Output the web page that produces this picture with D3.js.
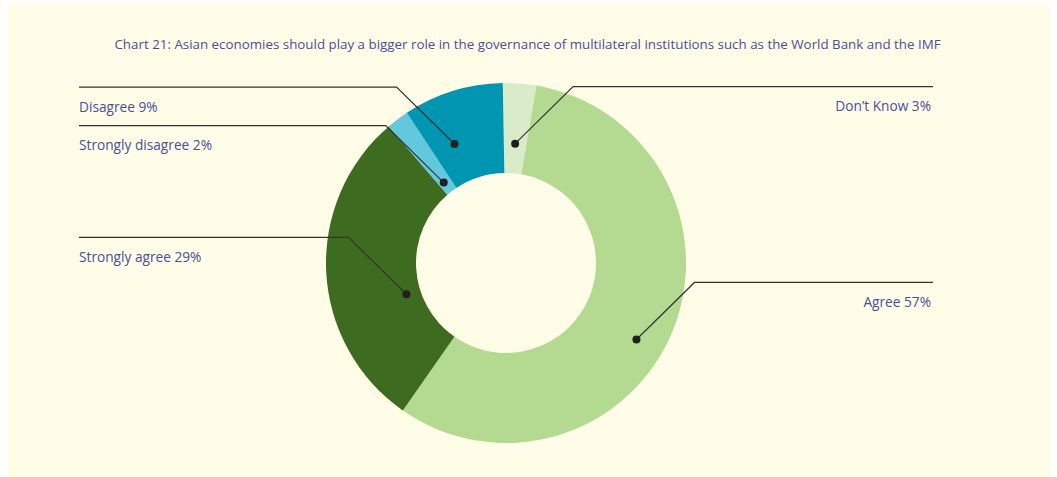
<!DOCTYPE html>
<html>
<head>
<meta charset="utf-8">
<script src="https://cdn.jsdelivr.net/npm/d3@7"></script>
<style>
  html, body { margin: 0; padding: 0; background: #ffffff; }
  svg { display: block; }
</style>
</head>
<body>
<svg id="chart" width="1057" height="477"></svg>
<script>
// ---- data ----
const title = "Chart 21: Asian economies should play a bigger role in the governance of multilateral institutions such as the World Bank and the IMF";
const categories = ["Don\u2019t Know", "Agree", "Strongly agree", "Strongly disagree", "Disagree"];
const values = [3, 57, 29, 2, 9];
const colors = ["#d9ebc8", "#b4da92", "#3d6b1f", "#62c8dd", "#0095b0"];

// ---- annotation layout (where leader dots sit within each slice) ----
const dotAngleFrac = [0.50, 0.539, 0.36, 0.40, 0.31];   // fraction along slice
const dotRadiusFrac = [0.33, 0.68, 0.16, 0.13, 0.44];  // fraction from inner to outer radius

const W = 1057, H = 477;
const cx = 506, cy = 263, rOuter = 180, rInner = 90;
const rot = -0.018;
const textColor = "#4a4d9d";
const fontFamily = "'Open Sans', 'Noto Sans', sans-serif";

const svg = d3.select("#chart");

svg.append("rect")
  .attr("x", 8).attr("y", 4)
  .attr("width", 1042).attr("height", 473)
  .attr("fill", "#fffde8");

svg.append("text")
  .attr("x", 527.5).attr("y", 49)
  .attr("text-anchor", "middle")
  .attr("font-family", fontFamily)
  .attr("font-size", 13.35)
  .attr("fill", textColor)
  .text(title);

const data = categories.map((c, i) => ({ cat: c, value: values[i], color: colors[i], i }));

const pie = d3.pie().value(d => d.value).sort(null)
  .startAngle(rot).endAngle(2 * Math.PI + rot);
const arcs = pie(data);
const arc = d3.arc().innerRadius(rInner).outerRadius(rOuter);

const g = svg.append("g").attr("transform", `translate(${cx},${cy})`);
g.selectAll("path.slice")
  .data(arcs)
  .enter().append("path")
  .attr("class", "slice")
  .attr("d", arc)
  .attr("fill", d => d.data.color);

// leader lines and labels
const ann = svg.append("g");
const diag = 58;
arcs.forEach((a, i) => {
  const ang = a.startAngle + (a.endAngle - a.startAngle) * dotAngleFrac[i];
  const r = rInner + (rOuter - rInner) * dotRadiusFrac[i];
  const dx = cx + r * Math.sin(ang);
  const dy = cy - r * Math.cos(ang);
  const right = Math.sin(ang) > 0;
  const ex = right ? dx + diag : dx - diag;
  const ey = dy - diag + 1;
  const endX = right ? 933 : 79;
  ann.append("polyline")
    .attr("points", `${dx},${dy} ${ex},${ey} ${endX},${ey}`)
    .attr("fill", "none")
    .attr("stroke", "#333333")
    .attr("stroke-width", 1.2);
  ann.append("circle")
    .attr("cx", dx).attr("cy", dy).attr("r", 4)
    .attr("fill", "#231f20");
  ann.append("text")
    .attr("x", right ? 931 : 79)
    .attr("y", ey + 24.5)
    .attr("text-anchor", right ? "end" : "start")
    .attr("font-family", fontFamily)
    .attr("font-size", 13.7)
    .attr("fill", textColor)
    .text(`${a.data.cat} ${a.data.value}%`);
});
</script>
</body>
</html>
